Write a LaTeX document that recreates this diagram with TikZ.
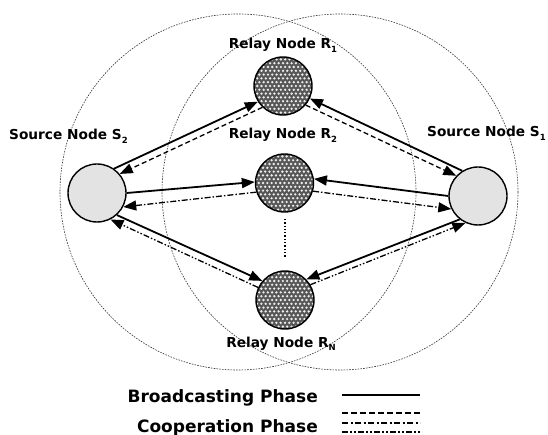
\documentclass[tikz,border=0pt]{standalone}
\usepackage{fontspec}
\setmainfont{DejaVu Sans}
\usetikzlibrary{arrows.meta}
\newcommand{\lowsub}[1]{\raisebox{-0.45ex}{\fontsize{8.5}{8.5}\selectfont #1}}
\begin{document}
\begin{tikzpicture}[x=1pt,y=-1pt,
  rangecircle/.style={draw=black!80,line width=0.6pt,dash pattern=on 1.6pt off 1.2pt},
  source/.style={circle,draw=black,line width=1.4pt,minimum size=58pt,inner sep=0pt,
     fill=gray!22},
  relay/.style={circle,draw=black,line width=1.4pt,minimum size=58pt,inner sep=0pt,
     fill=black!66,
     path picture={\begin{scope}[shift={(path picture bounding box.center)}]
       \foreach \j in {-8,...,8}{\foreach \i in {-8,...,8}{
         \fill[white!85!gray] ({\i*4.3+mod(abs(\j),2)*2.15},{\j*3.8}) circle[radius=1.3pt];}}
       \end{scope}}},
  lab/.style={anchor=base,font=\fontsize{13.7}{13.7}\selectfont\bfseries,inner sep=0pt},
  leg/.style={anchor=base east,font=\fontsize{17}{17}\selectfont\bfseries,inner sep=0pt},
  tip/.style={-{Triangle[length=13pt,width=10pt]}},
  bc/.style={tip,line width=1.8pt},
  cpA/.style={tip,line width=1.3pt,dash pattern=on 5pt off 3pt},
  cpB/.style={tip,line width=1.3pt,dash pattern=on 6pt off 2pt on 1.5pt off 2pt},
  cpC/.style={tip,line width=1.3pt,dash pattern=on 6pt off 2pt on 1.5pt off 2pt on 1.5pt off 2pt},
  lgsolid/.style={line width=2.4pt},
  lgA/.style={line width=2pt,dash pattern=on 6pt off 3pt},
  lgB/.style={line width=2pt,dash pattern=on 6pt off 2.5pt on 2pt off 2.5pt},
  lgC/.style={line width=2pt,dash pattern=on 6pt off 2pt on 2pt off 2pt on 2pt off 2pt}
]
\useasboundingbox (0,0) rectangle (548,435);

% coverage ranges
\draw[rangecircle] (238,192) circle[radius=178];
\draw[rangecircle] (340,192) circle[radius=178];

% nodes
\node[source] (S2) at (97,193) {};
\node[source] (S1) at (478,196) {};
\node[relay] (R1) at (283,86) {};
\node[relay] (R2) at (284.5,183) {};
\node[relay] (RN) at (285,300) {};

% dotted continuation
\coordinate (d1) at (285,219);
\coordinate (d2) at (285,258);
\draw[line width=1.3pt,dotted] (d1) -- (d2);

% labels
\node[lab] (lR1) at (283,49) {Relay Node R\lowsub{1}};
\node[lab] (lR2) at (283,139) {Relay Node R\lowsub{2}};
\node[lab] (lRN) at (281,347) {Relay Node R\lowsub{N}};
\node[lab,anchor=base west] (lS2) at (9,140) {Source Node S\lowsub{2}};
\node[lab,anchor=base west] (lS1) at (427,137) {Source Node S\lowsub{1}};

% S2 links
\draw[bc] (S2.55) -- (R1.212);
\draw[cpA] (R1.226) -- (S2.40);
\draw[bc] (S2.0) -- (R2.178);
\draw[cpB] (R2.198) -- (S2.-28);
\draw[bc] (S2.-48) -- (RN.140);
\draw[cpC] (RN.155) -- (S2.-63);

% S1 links
\draw[bc] (S1.122) -- (R1.-25);
\draw[cpA] (R1.-40) -- (S1.137);
\draw[bc] (S1.180) -- (R2.8);
\draw[cpB] (R2.-16) -- (S1.206);
\draw[bc] (S1.232) -- (RN.44);
\draw[cpC] (RN.31) -- (S1.245);

% legend
\node[leg] (lgb) at (318,402) {Broadcasting Phase};
\node[leg] (lgc) at (318,432) {Cooperation Phase};
\coordinate (a1) at (342,395); \coordinate (a2) at (420,395);
\draw[lgsolid] (a1) -- (a2);
\coordinate (b1) at (342,413); \coordinate (b2) at (420,413);
\draw[lgA] (b1) -- (b2);
\coordinate (c1) at (342,423); \coordinate (c2) at (420,423);
\draw[lgB] (c1) -- (c2);
\coordinate (e1) at (342,432); \coordinate (e2) at (420,432);
\draw[lgC] (e1) -- (e2);
\end{tikzpicture}
\end{document}
